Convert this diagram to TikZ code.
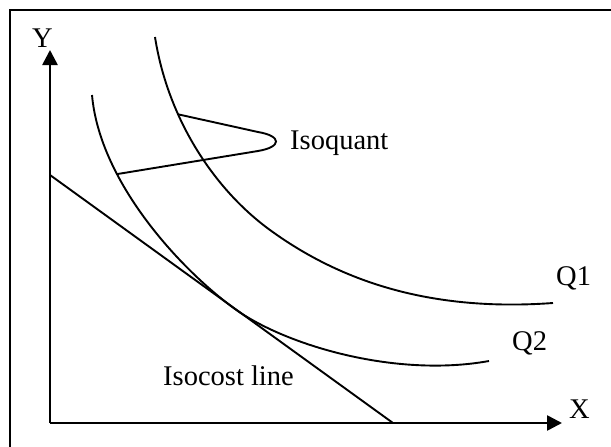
\documentclass[tikz,border=0pt]{standalone}
\usepackage{fontspec}
\setmainfont{Liberation Serif}
\usetikzlibrary{arrows.meta}
\begin{document}
\begin{tikzpicture}[x=1pt,y=-1pt,
  frameline/.style={line width=2.2pt},
  axisline/.style={line width=2.6pt,-{Triangle[length=15pt,width=15pt]}},
  curveline/.style={line width=1.9pt},
  lbl/.style={inner sep=0pt,anchor=base west,font=\fontsize{28.5}{30}\selectfont}]
\useasboundingbox (0,0) rectangle (611,447);
% frame
\draw[frameline] (10,447) -- (10,10) -- (611,10);
% axes
\coordinate (o) at (50,423);
\coordinate (ytip) at (50,50);
\coordinate (xtip) at (562,423);
\draw[axisline] (o) -- (ytip);
\draw[axisline] (o) -- (xtip);
\node[lbl] (ylab) at (32,47) {Y};
\node[lbl] (xlab) at (569,418) {X};
% isocost line
\coordinate (c1) at (50,175);
\coordinate (c2) at (393,423);
\draw[curveline] (c1) -- (c2);
% Q1
\draw[curveline] (155,37) .. controls (168,120) and (215,190) .. (270,230)
  coordinate[pos=0.33] (iq1)
  .. controls (340,281) and (430,312) .. (553,303);
% Q2
\draw[curveline] (92,95) .. controls (100,185) and (185,273) .. (235,309)
  coordinate[pos=0.3] (iq2)
  .. controls (285,345) and (395,378) .. (489,361);
% isoquant pointer
\draw[curveline] (iq1) -- (258,132) .. controls (282,136) and (282,147) .. (258,151) -- (iq2);
% labels
\node[lbl] (isoq) at (290,149) {Isoquant};
\node[lbl] (isoc) at (163,385) {Isocost line};
\node[lbl] (q1) at (556,285) {Q1};
\node[lbl] (q2) at (512,350) {Q2};
\end{tikzpicture}
\end{document}
